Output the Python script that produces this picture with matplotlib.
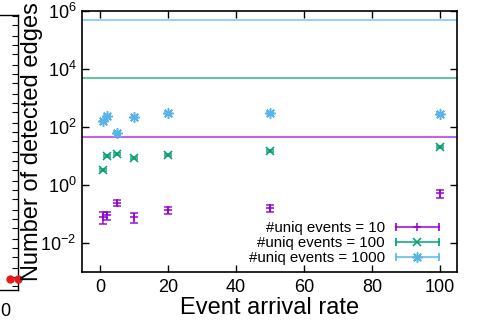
import matplotlib
matplotlib.use("Agg")
import matplotlib.pyplot as plt
import numpy as np
from matplotlib.legend_handler import HandlerBase
from matplotlib.lines import Line2D
from matplotlib.ticker import FixedLocator, NullLocator, LogLocator

plt.rcParams['font.family'] = ['Liberation Sans', 'DejaVu Sans']
plt.rcParams['mathtext.fontset'] = 'custom'
plt.rcParams['mathtext.rm'] = 'Liberation Sans'
plt.rcParams['mathtext.it'] = 'Liberation Sans'
plt.rcParams['mathtext.bf'] = 'Liberation Sans'

# ---------------- data ----------------
rates = [1, 2, 5, 10, 20, 50, 100]
labels = ["#uniq events = 10", "#uniq events = 100", "#uniq events = 1000"]
edges_10 = [0.080, 0.090, 0.243, 0.080, 0.138, 0.157, 0.51]
err_10 = [0.033, 0.030, 0.060, 0.031, 0.038, 0.040, 0.16]
edges_100 = [3.3, 10.2, 11.7, 8.5, 11.1, 14.4, 19.8]
err_100 = [0.25, 0.8, 0.9, 0.7, 0.9, 1.1, 1.5]
edges_1000 = [155, 233, 63, 214, 310, 310, 280]
err_1000 = [12, 18, 5, 16, 22, 22, 20]
max_edges = [45, 4950, 499500]
x_ticks = [0, 20, 40, 60, 80, 100]
y_ticks = [1e-2, 1e0, 1e2, 1e4, 1e6]

# fragment of neighbouring panel
frag_x = [1.5, 3.8]
frag_y = [8.5e-4, 8.5e-4]

colors = ['#9400D3', '#009E73', '#56B4E9']
markers = ['+', 'x', (8, 2, 0)]
msizes = [6, 6, 7.5]
series = [(edges_10, err_10), (edges_100, err_100), (edges_1000, err_1000)]

W, H = 484, 325
fig = plt.figure(figsize=(W / 100, H / 100), dpi=100)

# ---------- neighbouring panel fragment (only right edge visible) ----------
fl, fr, ft, fb = -357, 18, 15, 290
fax = fig.add_axes([fl / W, (H - fb) / H, (fr - fl) / W, (fb - ft) / H])
fax.set_yscale('log')
fax.set_xlim(-106, 3.8)
fax.set_ylim(10 ** -3.45, 10 ** 6.03)
fax.plot(frag_x, frag_y, 'o', color='#E41A1C', ms=5, clip_on=False, zorder=5)
fax.yaxis.set_major_locator(LogLocator(base=10, numticks=20))
fax.yaxis.set_minor_locator(LogLocator(base=10, subs=[2, 5], numticks=20))
fax.tick_params(axis='y', which='both', direction='in', left=False, right=True,
                labelleft=False, labelright=False, length=4, width=0.8)
fax.set_xticks([0])
fax.tick_params(axis='x', direction='in', length=0, labelsize=13, pad=9)
for s in fax.spines.values():
    s.set_linewidth(1.0)

# ---------------- main panel ----------------
L, R, T, B = 82, 457, 11, 272
ax = fig.add_axes([L / W, (H - B) / H, (R - L) / W, (B - T) / H])
ax.set_yscale('log')

for val, c in zip(max_edges, colors):
    ax.axhline(val, color=c, lw=1.5, alpha=0.6, zorder=1)

handles = []
for (vals, errs), c, m, ms, lab in zip(series, colors, markers, msizes, labels):
    eb = ax.errorbar(rates, vals, yerr=errs, fmt='none', ecolor=c, elinewidth=1.2,
                     capsize=3, capthick=1.2, alpha=0.85, zorder=3)
    ln, = ax.plot(rates, vals, ls='none', marker=m, ms=ms, mew=1.1, color=c, zorder=4,
                  label=lab)
    handles.append(ln)

ax.set_xlim(-5.3, 105)
ax.set_ylim(1e-3, 1e6)
ax.xaxis.set_major_locator(FixedLocator(x_ticks))
ax.yaxis.set_major_locator(FixedLocator(y_ticks))
ax.yaxis.set_minor_locator(NullLocator())
ax.xaxis.set_minor_locator(NullLocator())
ax.tick_params(axis='both', which='major', direction='in', top=True, right=True,
               length=5, width=1.0, labelsize=13)
ax.tick_params(axis='x', pad=5)
ax.tick_params(axis='y', pad=4)
for s in ax.spines.values():
    s.set_linewidth(1.2)

ax.set_xlabel("Event arrival rate", fontsize=17, labelpad=1)
ax.set_ylabel("Number of detected edges", fontsize=17)
ax.yaxis.set_label_coords(-0.105, 0.5)


class HErrHandler(HandlerBase):
    def __init__(self, color, marker, ms):
        super().__init__()
        self.color, self.marker, self.ms = color, marker, ms

    def create_artists(self, legend, orig_handle, xdescent, ydescent, width, height,
                       fontsize, trans):
        y = height / 2 - ydescent
        x0, x1 = -xdescent, width - xdescent
        line = Line2D([x0, x1], [y, y], color=self.color, lw=1.5, alpha=0.75)
        caps = Line2D([x0, x1], [y, y], ls='none', marker='|', ms=6, mew=1.2,
                      color=self.color)
        mk = Line2D([(x0 + x1) / 2], [y], ls='none', marker=self.marker, ms=self.ms,
                    mew=1.1, color=self.color)
        for a in (line, caps, mk):
            a.set_transform(trans)
        return [line, caps, mk]


hmap = {h: HErrHandler(c, m, ms) for h, c, m, ms in zip(handles, colors, markers, msizes)}
leg = ax.legend(handles=handles, handler_map=hmap, loc='lower right',
                bbox_to_anchor=((439 - L) / (R - L), 0.025), frameon=False,
                markerfirst=False, fontsize=10.8, handlelength=2.9, handletextpad=0.7,
                labelspacing=0.08, borderpad=0, borderaxespad=0)

fig.savefig("out.png", dpi=100)
